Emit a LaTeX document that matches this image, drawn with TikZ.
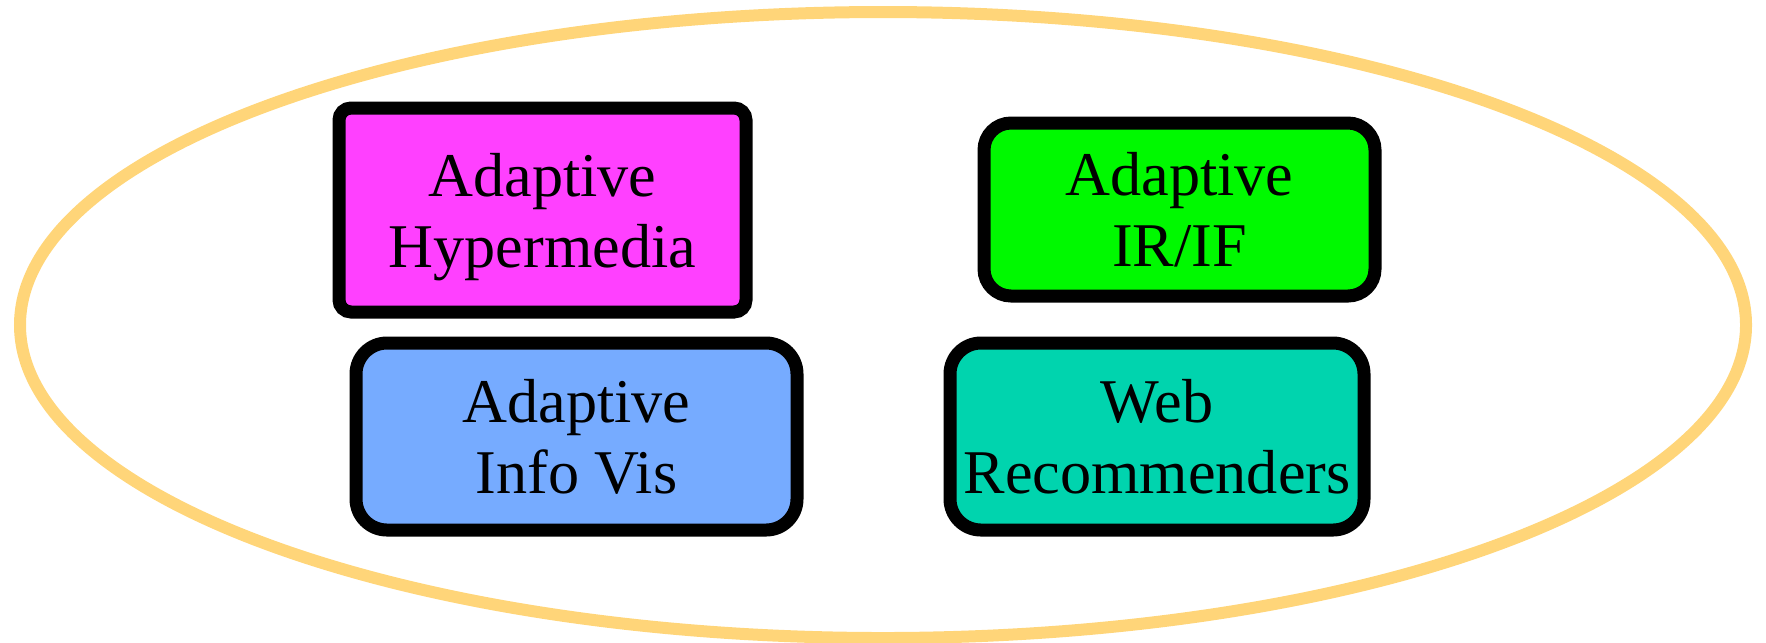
\documentclass[tikz,border=0pt]{standalone}
\usepackage{fontspec}
\setmainfont{Liberation Serif}

\definecolor{ringcol}{HTML}{FFD579}
\definecolor{hypercol}{HTML}{FF40FF}
\definecolor{ircol}{HTML}{00F900}
\definecolor{viscol}{HTML}{76ABFF}
\definecolor{webcol}{HTML}{00D4AE}

\tikzset{
  areabox/.style={draw=black, line width=1.3mm, align=center, inner sep=0pt,
    text depth=0pt, font=\fontsize{17.7}{20.2}\selectfont}
}

\begin{document}
\begin{tikzpicture}[x=0.1mm, y=-0.1mm]

    \useasboundingbox (0,0) rectangle (1766,642);

    % 画一个椭圆
    \draw[ringcol, line width=1.2mm] (883,325) ellipse (863 and 313);

    % 四个方框
    \node[areabox, fill=hypercol, rounded corners=1.2mm, minimum width=40.7mm, minimum height=20.4mm]
      (hyper) at (542.5,210) {Adaptive\\Hypermedia};
    \node[areabox, fill=ircol, rounded corners=2.7mm, minimum width=39.1mm, minimum height=17.3mm]
      (irif) at (1179.5,209.5) {Adaptive\\IR/IF};
    \node[areabox, fill=viscol, rounded corners=3.1mm, minimum width=44.1mm, minimum height=18.7mm]
      (infovis) at (576.5,436.5) {Adaptive\\Info Vis};
    \node[areabox, fill=webcol, rounded corners=3.1mm, minimum width=41.4mm, minimum height=18.7mm]
      (webrec) at (1157,436.5) {Web\\Recommenders};

  \end{tikzpicture}
\end{document}
